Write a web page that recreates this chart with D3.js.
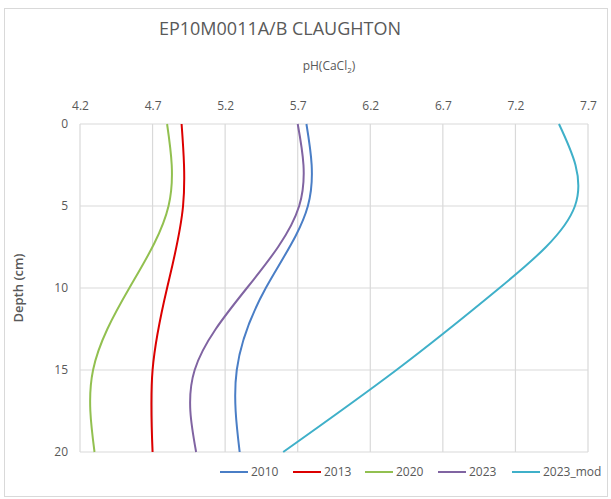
<!DOCTYPE html>
<html>
<head>
<meta charset="utf-8">
<script src="https://cdn.jsdelivr.net/npm/d3@7"></script>
<style>
  body { margin: 0; background: #fff; }
  text { font-family: "Open Sans", sans-serif; fill: #595959; }
</style>
</head>
<body>
<svg id="chart" width="611" height="499"></svg>
<script>
// pH profiles, values read at each depth
const depths = [0, 5, 10, 15, 20];
const ph2010 = [5.76, 5.77, 5.48, 5.28, 5.30];
const ph2013 = [4.90, 4.91, 4.80, 4.70, 4.70];
const ph2020 = [4.80, 4.81, 4.54, 4.29, 4.30];
const ph2023 = [5.70, 5.71, 5.35, 4.99, 5.00];
const ph2023mod = [7.50, 7.61, 7.09, 6.38, 5.60];
const seriesNames = ["2010", "2013", "2020", "2023", "2023_mod"];
const xTicks = [4.2, 4.7, 5.2, 5.7, 6.2, 6.7, 7.2, 7.7];
const yTicks = [0, 5, 10, 15, 20];

const colors = ["#4a7ec6", "#dc0000", "#92c050", "#8064a2", "#3fb0c9"];
const allSeries = [ph2010, ph2013, ph2020, ph2023, ph2023mod];

const svg = d3.select("#chart");

// outer chart border
svg.append("rect")
  .attr("x", 4.5).attr("y", 8.5)
  .attr("width", 603).attr("height", 488)
  .attr("fill", "none")
  .attr("stroke", "#d9d9d9");

const margin = { top: 124, right: 23, bottom: 47, left: 80 };
const width = 611 - margin.left - margin.right;
const height = 499 - margin.top - margin.bottom;

const g = svg.append("g")
  .attr("transform", "translate(" + margin.left + "," + margin.top + ")");

const x = d3.scaleLinear().domain([4.2, 7.7]).range([0, width]);
const y = d3.scaleLinear().domain([0, 20]).range([0, height]);

// grid
g.selectAll(".vgrid").data(xTicks).enter().append("line")
  .attr("x1", d => x(d)).attr("x2", d => x(d))
  .attr("y1", 0).attr("y2", height)
  .attr("stroke", "#d9d9d9").attr("stroke-width", 1.2);

g.selectAll(".hgrid").data(yTicks).enter().append("line")
  .attr("x1", 0).attr("x2", width)
  .attr("y1", d => y(d)).attr("y2", d => y(d))
  .attr("stroke", "#d9d9d9").attr("stroke-width", 1.2);

// axes (top for pH, left for depth)
const xAxis = g.append("g")
  .call(d3.axisTop(x).tickValues(xTicks).tickSize(0).tickPadding(14).tickFormat(d3.format(".1f")));
xAxis.select(".domain").remove();
xAxis.selectAll("text").attr("font-size", "12px").attr("fill", "#595959");

const yAxis = g.append("g")
  .call(d3.axisLeft(y).tickValues(yTicks).tickSize(0).tickPadding(12));
yAxis.select(".domain").remove();
yAxis.selectAll("text").attr("font-size", "12px").attr("fill", "#595959");

// lines
const line = d3.line()
  .x(d => x(d[0]))
  .y(d => y(d[1]))
  .curve(d3.curveNatural);

allSeries.forEach((vals, i) => {
  g.append("path")
    .datum(vals.map((v, j) => [v, depths[j]]))
    .attr("d", line)
    .attr("fill", "none")
    .attr("stroke", colors[i])
    .attr("stroke-width", 2);
});

// titles
svg.append("text")
  .attr("x", 280).attr("y", 35)
  .attr("text-anchor", "middle")
  .attr("font-size", "18px")
  .text("EP10M0011A/B CLAUGHTON");

const axTitle = svg.append("text")
  .attr("x", 329).attr("y", 70)
  .attr("text-anchor", "middle")
  .attr("font-size", "12px");
axTitle.append("tspan").text("pH(CaCl");
axTitle.append("tspan").attr("font-size", "8px").attr("dy", 3).text("2");
axTitle.append("tspan").attr("dy", -3).text(")");

svg.append("text")
  .attr("transform", "translate(23," + (margin.top + height / 2) + ") rotate(-90)")
  .attr("text-anchor", "middle")
  .attr("font-size", "13px")
  .attr("font-weight", 600)
  .attr("fill", "#6f6f6f")
  .text("Depth (cm)");

// legend
const legendX = [220, 293, 365, 438, 512];
const legend = svg.append("g");
seriesNames.forEach((name, i) => {
  legend.append("line")
    .attr("x1", legendX[i]).attr("x2", legendX[i] + 28)
    .attr("y1", 472).attr("y2", 472)
    .attr("stroke", colors[i]).attr("stroke-width", 2);
  legend.append("text")
    .attr("x", legendX[i] + 31).attr("y", 476)
    .attr("font-size", "12px")
    .text(name);
});
</script>
</body>
</html>
